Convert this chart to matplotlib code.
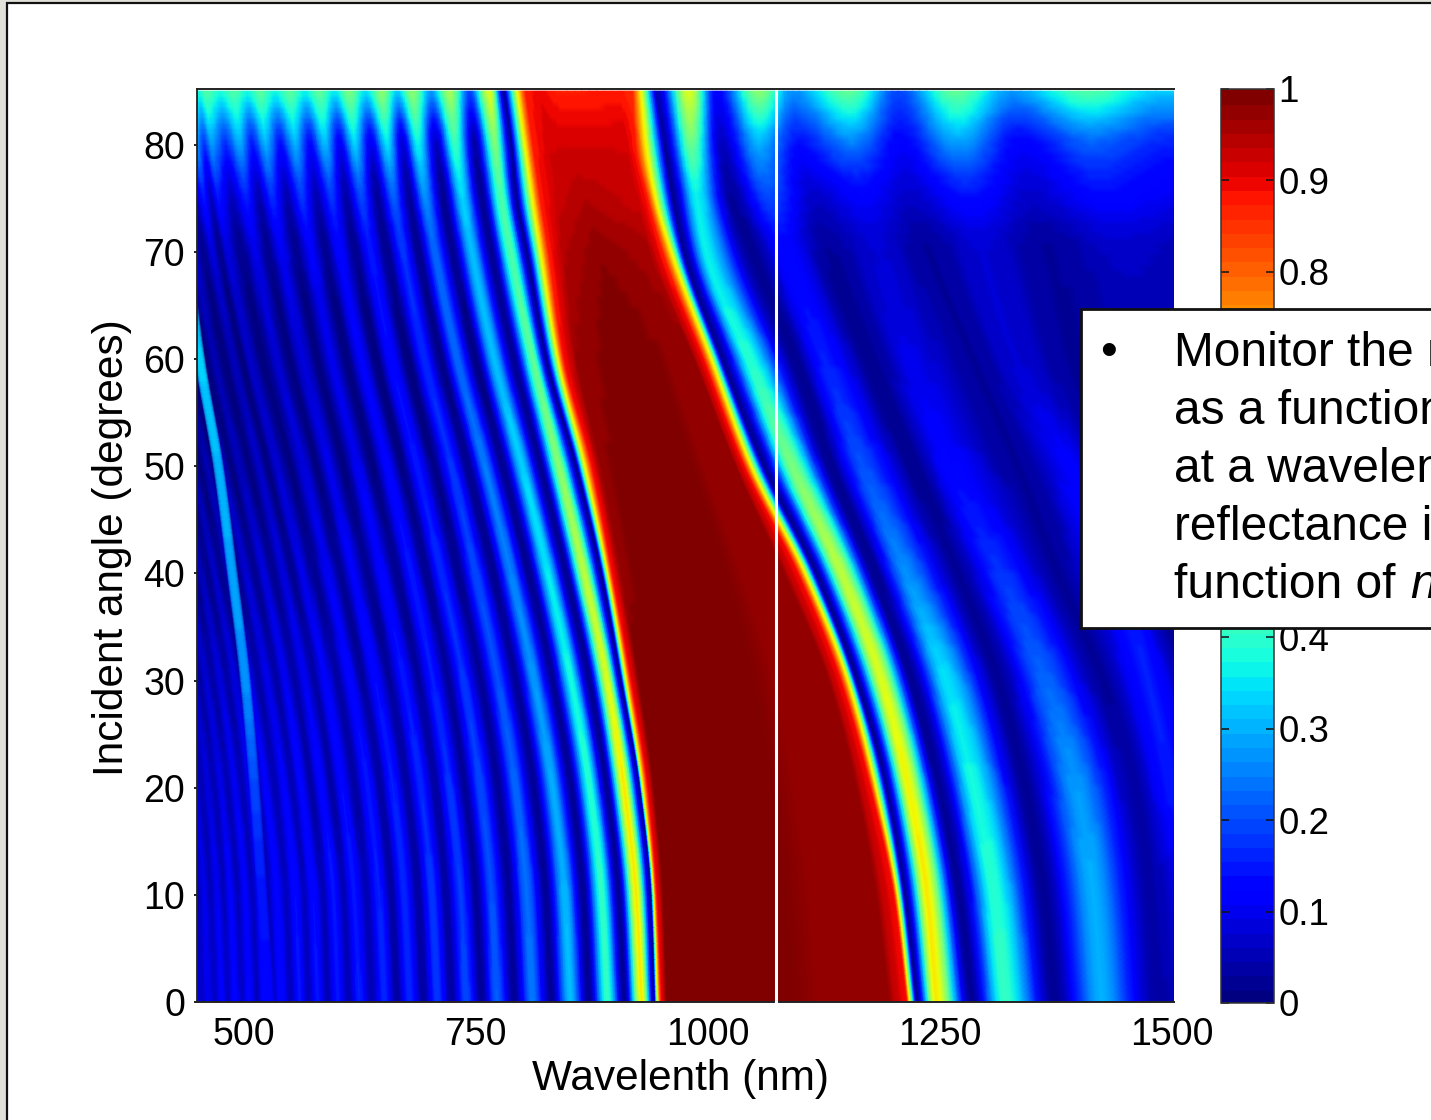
import numpy as np
import matplotlib
matplotlib.use("Agg")
import matplotlib.pyplot as plt
from matplotlib.patches import Rectangle

plt.rcParams['font.family'] = ['Liberation Sans', 'DejaVu Sans']

W, H = 1431, 1120

# ---------- data ----------
angles = [0, 10, 20, 30, 40, 50, 60, 70, 75, 80, 85]

# wavelength (nm) of the fringe maxima left of the band: one row per angle
fringe_wl = [
    [449, 462, 477, 491, 507, 523, 541, 561, 580, 602, 625, 652, 679, 709, 740, 773, 811, 852, 892, 929],
    [445, 458, 472, 486, 502, 518, 536, 556, 575, 597, 619, 646, 673, 703, 734, 767, 805, 846, 886, 923],
    [435, 448, 462, 476, 491, 507, 524, 544, 562, 584, 606, 634, 661, 691, 722, 755, 793, 833, 873, 910],
    [421, 433, 447, 460, 475, 491, 507, 526, 545, 566, 588, 615, 642, 673, 704, 737, 774, 813, 853, 892],
    [402, 414, 428, 440, 455, 469, 485, 503, 522, 543, 563, 591, 618, 649, 681, 713, 750, 788, 828, 867],
    [382, 393, 406, 418, 432, 446, 461, 478, 496, 517, 536, 565, 592, 623, 655, 687, 724, 760, 800, 840],
    [360, 371, 383, 394, 407, 421, 435, 451, 469, 490, 507, 536, 564, 595, 627, 659, 695, 730, 770, 812],
    [343, 353, 365, 375, 388, 400, 414, 430, 447, 467, 483, 513, 541, 573, 604, 637, 672, 706, 746, 788],
    [335, 345, 356, 367, 379, 391, 405, 420, 437, 458, 473, 503, 531, 563, 595, 627, 662, 696, 736, 778],
    [329, 339, 351, 361, 373, 385, 398, 413, 430, 450, 466, 496, 524, 556, 588, 620, 655, 688, 728, 771],
    [325, 335, 346, 356, 368, 380, 393, 408, 425, 445, 460, 490, 518, 550, 582, 614, 649, 682, 722, 765],
]
# reflectance at those maxima
fringe_peak = [
    [.11, .11, .12, .13, .13, .14, .14, .15, .15, .15, .16, .17, .17, .18, .20, .22, .25, .32, .42, .66],
    [.10, .10, .11, .12, .12, .13, .13, .14, .14, .15, .15, .16, .17, .18, .19, .21, .24, .31, .41, .66],
    [.09, .09, .09, .10, .11, .11, .12, .12, .13, .13, .14, .15, .16, .17, .18, .20, .23, .30, .40, .66],
    [.07, .07, .07, .08, .09, .09, .10, .10, .11, .11, .12, .13, .14, .15, .16, .18, .21, .28, .38, .62],
    [.05, .05, .05, .06, .06, .07, .07, .08, .09, .09, .10, .11, .12, .13, .15, .17, .20, .26, .36, .58],
    [.03, .03, .03, .04, .04, .05, .05, .06, .06, .07, .08, .09, .10, .11, .13, .15, .18, .25, .34, .52],
    [.03, .03, .03, .03, .03, .04, .04, .05, .05, .06, .07, .08, .09, .10, .12, .14, .17, .23, .32, .47],
    [.05, .05, .05, .06, .06, .07, .07, .08, .08, .09, .09, .10, .11, .12, .13, .15, .18, .23, .32, .45],
    [.11, .11, .11, .12, .12, .13, .13, .14, .14, .15, .15, .16, .17, .18, .18, .20, .22, .27, .34, .45],
    [.24, .24, .24, .25, .25, .26, .26, .27, .27, .28, .28, .29, .30, .30, .31, .33, .35, .37, .42, .50],
    [.45, .45, .45, .45, .45, .45, .45, .45, .45, .45, .45, .45, .46, .46, .47, .50, .52, .52, .55, .62],
]
# reflectance at the minima between those maxima
fringe_trough = [
    [.07, .07, .07, .07, .06, .06, .06, .06, .05, .05, .05, .04, .04, .04, .03, .03, .03, .03, .02],
    [.06, .06, .06, .06, .06, .06, .06, .06, .05, .05, .05, .04, .04, .04, .03, .03, .03, .03, .02],
    [.05, .05, .05, .05, .05, .05, .05, .05, .04, .04, .04, .04, .04, .04, .03, .03, .03, .03, .02],
    [.04, .04, .04, .04, .04, .04, .04, .04, .04, .04, .04, .03, .03, .03, .03, .03, .03, .03, .02],
    [.02, .02, .02, .02, .02, .02, .02, .02, .02, .02, .02, .02, .02, .02, .02, .02, .02, .02, .02],
    [.01, .01, .01, .01, .01, .01, .01, .01, .01, .01, .01, .01, .01, .01, .01, .01, .02, .02, .02],
    [.005, .005, .005, .005, .005, .005, .005, .005, .005, .005, .005, .005, .005, .005, .005, .005, .01, .01, .02],
    [.02, .02, .02, .02, .02, .02, .02, .02, .02, .02, .02, .02, .02, .02, .02, .02, .02, .02, .02],
    [.07, .07, .07, .07, .07, .07, .07, .07, .06, .06, .06, .05, .05, .05, .04, .03, .03, .02, .02],
    [.20, .20, .20, .20, .20, .20, .20, .20, .18, .18, .17, .15, .14, .13, .11, .10, .08, .06, .04],
    [.39, .39, .39, .39, .39, .39, .39, .39, .39, .39, .39, .38, .38, .37, .36, .35, .33, .28, .20],
]

# band and the structure right of it: wavelength (nm) per angle
wl_left_dip    = [943, 939, 927, 907, 886, 859, 827, 806, 795, 789, 781]
wl_left_yellow = [946, 942, 930, 912, 892, 867, 838, 819, 810, 802, 794]
wl_left_red    = [950, 945, 935, 917, 897, 875, 845, 829, 820, 812, 804]
wl_left_top    = [956, 952, 942, 926, 907, 885, 859, 845, 838, 829, 819]
wl_centre      = [991, 987, 980, 969, 958, 937, 910, 883, 867, 851, 840]
wl_right_top   = [1195, 1181, 1160, 1130, 1082, 1030, 985, 937, 924, 912, 905]
wl_right_red   = [1215, 1201, 1176, 1144, 1098, 1040, 996, 951, 935, 922, 919]
wl_right_yellow = [1218, 1205, 1182, 1152, 1106, 1048, 1005, 962, 945, 935, 929]
wl_right_dip   = [1225, 1212, 1192, 1160, 1116, 1060, 1015, 974, 962, 953, 944]
wl_peak1       = [1246, 1236, 1216, 1187, 1144, 1091, 1044, 998, 988, 982, 980]
wl_dip1        = [1284, 1270, 1249, 1220, 1179, 1132, 1093, 1046, 1026, 1015, 1009]
wl_peak2       = [1320, 1308, 1286, 1256, 1213, 1166, 1125, 1084, 1066, 1055, 1055]
wl_dip2        = [1374, 1362, 1342, 1313, 1270, 1222, 1175, 1130, 1114, 1098, 1091]
wl_peak3       = [1424, 1415, 1397, 1363, 1315, 1259, 1216, 1184, 1166, 1155, 1152]
wl_dip3        = [1482, 1474, 1458, 1426, 1377, 1334, 1286, 1238, 1219, 1209, 1205]
wl_peak4       = [1528, 1517, 1499, 1474, 1442, 1391, 1331, 1295, 1281, 1270, 1267]
wl_dip4        = [1582, 1571, 1544, 1517, 1474, 1431, 1391, 1367, 1348, 1338, 1327]
wl_peak5       = [1635, 1619, 1598, 1571, 1539, 1506, 1474, 1445, 1428, 1413, 1410]
wl_dip5        = [1721, 1710, 1689, 1668, 1635, 1603, 1571, 1539, 1517, 1499, 1482]
wl_far         = [1800, 1800, 1800, 1800, 1800, 1800, 1800, 1800, 1800, 1800, 1800]

# reflectance at those wavelengths
r_left_dip     = [.02, .02, .02, .02, .02, .02, .02, .02, .02, .03, .03]
r_left_yellow  = [.62, .62, .62, .62, .62, .62, .62, .62, .62, .62, .62]
r_left_red     = [.88, .88, .88, .88, .88, .88, .88, .88, .88, .88, .88]
r_left_top     = [.99, .99, .99, .99, .98, .98, .97, .95, .93, .92, .90]
r_centre       = [1, 1, 1, 1, 1, 1, 1, .98, .95, .92, .87]
r_right_top    = [.97, .97, .97, .97, .97, .97, .97, .96, .93, .92, .88]
r_right_red    = [.88, .88, .88, .88, .88, .88, .88, .88, .88, .88, .86]
r_right_yellow = [.62, .62, .62, .62, .62, .62, .62, .62, .62, .62, .62]
r_right_dip    = [.02, .02, .02, .02, .02, .02, .02, .02, .02, .03, .05]
r_peak1        = [.66, .66, .65, .62, .58, .50, .40, .36, .37, .48, .62]
r_dip1         = [.02, .02, .02, .02, .02, .02, .02, .02, .03, .06, .12]
r_peak2        = [.42, .40, .38, .35, .27, .21, .16, .13, .20, .30, .52]
r_dip2         = [.03, .03, .03, .03, .03, .02, .02, .03, .07, .14, .27]
r_peak3        = [.30, .30, .28, .23, .18, .13, .10, .08, .12, .25, .47]
r_dip3         = [.04, .04, .04, .03, .03, .03, .03, .03, .07, .12, .20]
r_peak4        = [.08, .10, .15, .16, .14, .12, .08, .08, .14, .28, .47]
r_dip4         = [.03, .03, .03, .03, .03, .03, .03, .03, .07, .12, .28]
r_peak5        = [.10, .10, .10, .10, .10, .08, .05, .07, .13, .22, .45]
r_dip5         = [.05, .05, .05, .05, .05, .05, .05, .05, .10, .16, .33]
r_far          = [.05, .05, .05, .05, .05, .05, .05, .05, .10, .16, .33]

# narrow line crossing the fringes at far left
cross_angles = [0, 10, 20, 30, 40, 50, 60, 70]
cross_wl     = [528, 520, 512, 502, 488, 473, 453, 438]
cross_r      = [.13, .15, .20, .27, .29, .31, .33, .25]

# marked wavelength
marker_wl = 1073

x_ticks = [500, 750, 1000, 1250, 1500]
y_ticks = [0, 10, 20, 30, 40, 50, 60, 70, 80]
cbar_ticks = [0, .1, .2, .3, .4, .8, .9, 1]
cbar_labels = ['0', '0.1', '0.2', '0.3', '0.4', '0.8', '0.9', '1']
box_lines = ['Monitor the r', 'as a function', 'at a wavelen', 'reflectance i', 'function of ']
box_italic = 'n'

# ---------- assemble the mesh ----------
ang = np.array(angles, float)
fw = np.array(fringe_wl, float)
fp = np.array(fringe_peak, float)
ft = np.array(fringe_trough, float)
mid = (fw[:, :-1] + fw[:, 1:]) / 2
cols_x, cols_c = [], []
for j in range(fw.shape[1]):
    cols_x.append(fw[:, j]); cols_c.append(fp[:, j])
    if j < mid.shape[1]:
        cols_x.append(mid[:, j]); cols_c.append(ft[:, j])
first_edge = len(cols_x)
for wx, rx in [(wl_left_dip, r_left_dip), (wl_left_yellow, r_left_yellow), (wl_left_red, r_left_red),
               (wl_left_top, r_left_top), (wl_centre, r_centre), (wl_right_top, r_right_top),
               (wl_right_red, r_right_red), (wl_right_yellow, r_right_yellow), (wl_right_dip, r_right_dip),
               (wl_peak1, r_peak1), (wl_dip1, r_dip1), (wl_peak2, r_peak2), (wl_dip2, r_dip2),
               (wl_peak3, r_peak3), (wl_dip3, r_dip3), (wl_peak4, r_peak4), (wl_dip4, r_dip4),
               (wl_peak5, r_peak5), (wl_dip5, r_dip5), (wl_far, r_far)]:
    cols_x.append(np.array(wx, float)); cols_c.append(np.array(rx, float))
X = np.array(cols_x).T
C = np.array(cols_c).T
last_edge = first_edge + 8


def pchip(xs, ys, xq):
    """Monotone cubic through the table rows, for smooth curves between the read angles."""
    xs, ys = np.asarray(xs, float), np.asarray(ys, float)
    h = np.diff(xs)
    d = np.diff(ys) / h
    m = np.zeros_like(ys)
    m[0], m[-1] = d[0], d[-1]
    for k in range(1, len(xs) - 1):
        if d[k - 1] * d[k] > 0:
            w1, w2 = 2 * h[k] + h[k - 1], h[k] + 2 * h[k - 1]
            m[k] = (w1 + w2) / (w1 / d[k - 1] + w2 / d[k])
    i = np.clip(np.searchsorted(xs, xq, side='right') - 1, 0, len(h) - 1)
    t = (xq - xs[i]) / h[i]
    return ((2 * t**3 - 3 * t**2 + 1) * ys[i] + (t**3 - 2 * t**2 + t) * h[i] * m[i]
            + (-2 * t**3 + 3 * t**2) * ys[i + 1] + (t**3 - t**2) * h[i] * m[i + 1])


fine_a = np.linspace(0, 85, 171)
n_sub = 8
ncol = X.shape[1]
fine_u = np.linspace(0, ncol - 1, (ncol - 1) * n_sub + 1)
seg = np.clip(np.floor(fine_u).astype(int), 0, ncol - 2)
frac = fine_u - seg
# rounded maxima and minima for the fringes; steep band edges stay straight
rounded = frac * frac * (3 - 2 * frac)
edge_seg = (seg >= first_edge) & (seg < last_edge)
frac_c = np.where(edge_seg, frac, rounded)


def across(R, f):
    return R[:, seg] * (1 - f) + R[:, seg + 1] * f


Xa = np.array([pchip(ang, X[:, j], fine_a) for j in range(ncol)]).T
Ca = np.array([pchip(ang, C[:, j], fine_a) for j in range(ncol)]).T
Xf, Cf = across(Xa, frac), across(Ca, frac_c)
Yf = np.repeat(fine_a[:, None], Xf.shape[1], axis=1)

# ---------- figure ----------
fig = plt.figure(figsize=(W / 100, H / 100), dpi=100, facecolor='#E1E1D9')


def px_rect(x0, y0, x1, y1):
    return [x0 / W, 1 - y1 / H, (x1 - x0) / W, (y1 - y0) / H]


fig.add_artist(Rectangle((7 / W, -0.02), 1, 1.02 - 3 / H, transform=fig.transFigure,
                         facecolor='white', edgecolor='#111111', linewidth=1.6, zorder=-1))

ax = fig.add_axes(px_rect(197, 89, 1174, 1002))
cmap = plt.get_cmap('jet', 64)
mesh = ax.pcolormesh(Xf, Yf, Cf, cmap=cmap, vmin=0, vmax=1, shading='gouraud', rasterized=True)

# crossing line: bright centre, fading to nothing at both sides
ca = np.linspace(0, 70, 141)
cw = pchip(cross_angles, cross_wl, ca)
cr = pchip(cross_angles, cross_r, ca)
offs = np.linspace(-6, 6, 13)
SX = cw[:, None] + offs[None, :]
SY = np.repeat(ca[:, None], len(offs), axis=1)
rgba = cmap(cr)[:, None, :].repeat(len(offs), axis=1)
rgba[..., 3] = 1 - np.abs(offs) / 6
ax.pcolormesh(SX, SY, rgba, shading='gouraud', rasterized=True)

ax.set_xlim(450, 1502)
ax.set_ylim(0, 85.2)
ax.set_xticks(x_ticks)
ax.set_yticks(y_ticks)
ax.tick_params(axis='x', length=0, labelsize=27, pad=10.5)
ax.tick_params(axis='y', length=2.5, width=1.2, direction='out', labelsize=27, pad=6)
for s, lw in [('top', 1.4), ('left', 1.3), ('bottom', 1.4), ('right', 0)]:
    ax.spines[s].set_linewidth(lw)
    ax.spines[s].set_color('#222222')
ax.plot([marker_wl, marker_wl], [-0.3, 85.0], color='white', lw=2.2, clip_on=False, zorder=5)

fig.text(680 / W, 1 - 1079 / H, 'Wavelenth (nm)', fontsize=30.5, ha='center', va='center')
fig.text(112 / W, 1 - 548 / H, 'Incident angle (degrees)', fontsize=30.5, rotation=90,
         ha='center', va='center')

# colour bar
cax = fig.add_axes(px_rect(1221, 89, 1274, 1003))
cb = fig.colorbar(mesh, cax=cax, ticks=cbar_ticks)
cb.ax.set_yticklabels(cbar_labels)
cb.ax.tick_params(axis='y', which='both', left=True, right=True, direction='in',
                  length=5.5, width=1.1, labelsize=26.5, pad=3.2, color='#111111')
cb.outline.set_linewidth(1.1)
cb.outline.set_edgecolor('#333333')
cb.solids.set_edgecolor('face')

# call-out box cut by the right edge of the picture
fig.add_artist(Rectangle((1081 / W, 1 - 628 / H), 1, 319 / H, transform=fig.transFigure,
                         facecolor='white', edgecolor='#111111', linewidth=2.0, zorder=6))
line_y = [349, 407, 465, 523, 581]
fig.text(1108 / W, 1 - 352 / H, '\u2022', fontsize=34.5, ha='center', va='center', zorder=7)
for t, y in zip(box_lines, line_y):
    fig.text(1174 / W, 1 - y / H, t, fontsize=34.5, ha='left', va='center_baseline', zorder=7)
fig.text(1410 / W, 1 - 581 / H, box_italic, fontsize=34.5, style='italic', ha='left',
         va='center_baseline', zorder=7)

fig.savefig('out.png', dpi=100, facecolor=fig.get_facecolor())
